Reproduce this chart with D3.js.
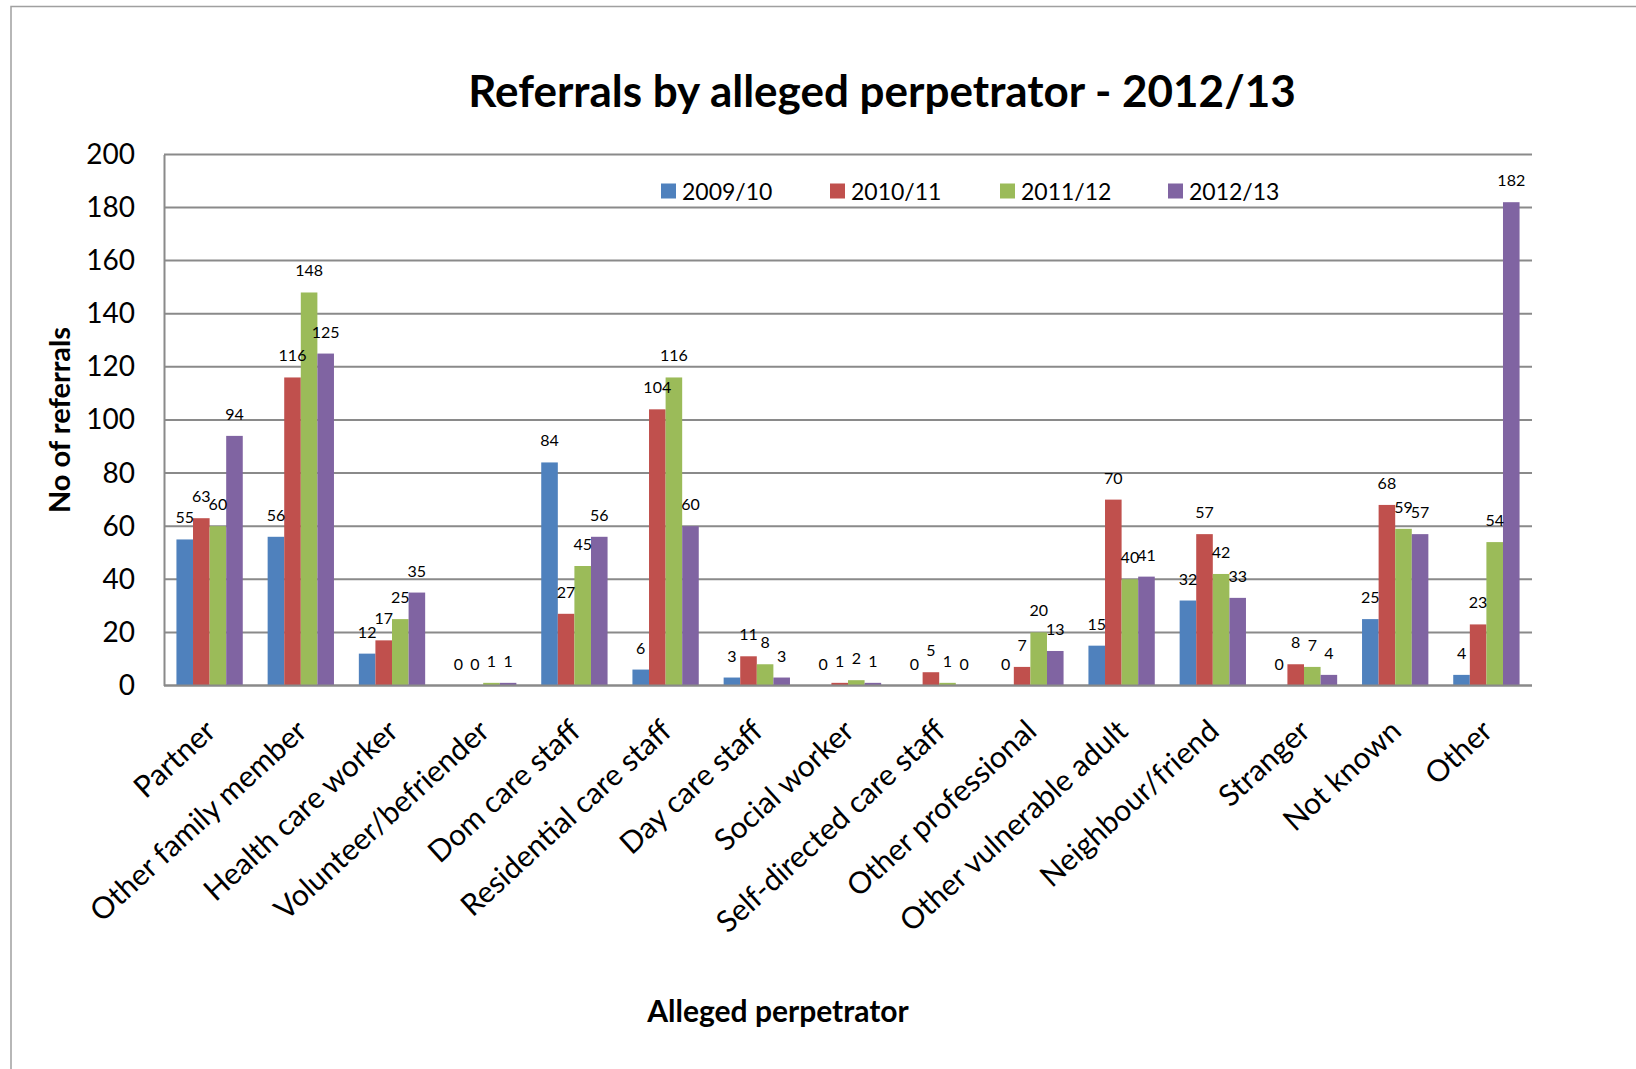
<!DOCTYPE html>
<html>
<head>
<meta charset="utf-8">
<script src="https://cdn.jsdelivr.net/npm/d3@7"></script>
<style>
  html, body { margin: 0; padding: 0; background: #fff; }
  svg { display: block; }
  text { font-family: Lato, "Open Sans", sans-serif; fill: #000; }
</style>
</head>
<body>
<svg id="chart" width="1636" height="1069"></svg>
<script>
// Referrals by alleged perpetrator, four financial years
const categories = [
  "Partner", "Other family member", "Health care worker", "Volunteer/befriender",
  "Dom care staff", "Residential care staff", "Day care staff", "Social worker",
  "Self-directed care staff", "Other professional", "Other vulnerable adult",
  "Neighbour/friend", "Stranger", "Not known", "Other"
];
const seriesNames = ["2009/10", "2010/11", "2011/12", "2012/13"];
const values2009 = [55, 56, 12, 0, 84, 6, 3, 0, 0, 0, 15, 32, 0, 25, 4];
const values2010 = [63, 116, 17, 0, 27, 104, 11, 1, 5, 7, 70, 57, 8, 68, 23];
const values2011 = [60, 148, 25, 1, 45, 116, 8, 2, 1, 20, 40, 42, 7, 59, 54];
const values2012 = [94, 125, 35, 1, 56, 60, 3, 1, 0, 13, 41, 33, 4, 57, 182];
const yTicks = [0, 20, 40, 60, 80, 100, 120, 140, 160, 180, 200];
const colors = ["#4F81BD", "#C0504D", "#9BBB59", "#8064A2"];

const seriesValues = [values2009, values2010, values2011, values2012];

const svg = d3.select("#chart");
const W = 1636, H = 1069;
const plot = { left: 164, right: 1532, top: 154.4, bottom: 685.5 };

// frame lines along the top and left edge
svg.append("path")
  .attr("d", `M11,${H} L11,6.5 L${W},6.5`)
  .attr("fill", "none").attr("stroke", "#a0a0a0").attr("stroke-width", 1.5);

const x = d3.scaleBand()
  .domain(categories)
  .range([plot.left, plot.right])
  .paddingInner(1.5 / 5.5)
  .paddingOuter(0.75 / 5.5);

const xs = d3.scaleBand()
  .domain(seriesNames)
  .range([0, x.bandwidth()]);

const y = d3.scaleLinear().domain([0, 200]).range([plot.bottom, plot.top]);

// horizontal gridlines
svg.append("g")
  .selectAll("line")
  .data(yTicks)
  .join("line")
  .attr("x1", plot.left).attr("x2", plot.right)
  .attr("y1", d => y(d)).attr("y2", d => y(d))
  .attr("stroke", "#8a8a8a").attr("stroke-width", 2);

// value axis with labels
const yAxis = svg.append("g")
  .attr("transform", `translate(${plot.left},0)`)
  .call(d3.axisLeft(y).tickValues(yTicks).tickSize(0).tickPadding(29));
yAxis.select(".domain").attr("stroke", "#8a8a8a").attr("stroke-width", 2);
yAxis.selectAll("text")
  .attr("font-size", 28)
  .attr("font-family", "Lato, sans-serif")
  .attr("fill", "#000");

// bars
const rows = categories.map((c, i) => ({
  category: c,
  items: seriesNames.map((s, k) => ({ series: s, value: seriesValues[k][i], k }))
}));

const groups = svg.append("g")
  .selectAll("g")
  .data(rows)
  .join("g")
  .attr("transform", d => `translate(${x(d.category)},0)`);

groups.selectAll("rect")
  .data(d => d.items)
  .join("rect")
  .attr("x", d => xs(d.series))
  .attr("width", xs.bandwidth())
  .attr("y", d => y(d.value))
  .attr("height", d => y(0) - y(d.value))
  .attr("fill", d => colors[d.k]);

// data labels above each bar
groups.selectAll("text.value")
  .data(d => d.items)
  .join("text")
  .attr("class", "value")
  .attr("x", d => xs(d.series) + xs.bandwidth() / 2)
  .attr("y", d => y(d.value) - 16)
  .attr("text-anchor", "middle")
  .attr("font-size", 16)
  .text(d => d.value);

// category axis line
svg.append("line")
  .attr("x1", plot.left).attr("x2", plot.right)
  .attr("y1", y(0)).attr("y2", y(0))
  .attr("stroke", "#8a8a8a").attr("stroke-width", 2);

// rotated category labels
const xAxis = svg.append("g")
  .attr("transform", `translate(0,${plot.bottom})`)
  .call(d3.axisBottom(x).tickSize(0).tickPadding(0));
xAxis.select(".domain").remove();
xAxis.selectAll(".tick text")
  .attr("font-size", 30)
  .attr("font-family", "Lato, sans-serif")
  .attr("fill", "#000")
  .attr("text-anchor", "end")
  .attr("dy", 0)
  .attr("y", 0)
  .attr("transform", "translate(8,48) rotate(-42.5)");

// legend
const legendX = [661, 830, 1000, 1168];
const legend = svg.append("g")
  .selectAll("g")
  .data(seriesNames)
  .join("g")
  .attr("transform", (d, i) => `translate(${legendX[i]},191)`);
legend.append("rect")
  .attr("x", 0).attr("y", -7.5).attr("width", 15).attr("height", 15)
  .attr("fill", (d, i) => colors[i]);
legend.append("text")
  .attr("x", 21).attr("y", 8.5)
  .attr("font-size", 23)
  .text(d => d);

// titles
svg.append("text")
  .attr("x", 882).attr("y", 107)
  .attr("text-anchor", "middle")
  .attr("font-size", 44).attr("font-weight", 700)
  .text("Referrals by alleged perpetrator - 2012/13");

svg.append("text")
  .attr("transform", `translate(70,420) rotate(-90)`)
  .attr("text-anchor", "middle")
  .attr("font-size", 29).attr("font-weight", 700)
  .text("No of referrals");

svg.append("text")
  .attr("x", 778).attr("y", 1022)
  .attr("text-anchor", "middle")
  .attr("font-size", 30).attr("font-weight", 700)
  .text("Alleged perpetrator");
</script>
</body>
</html>
